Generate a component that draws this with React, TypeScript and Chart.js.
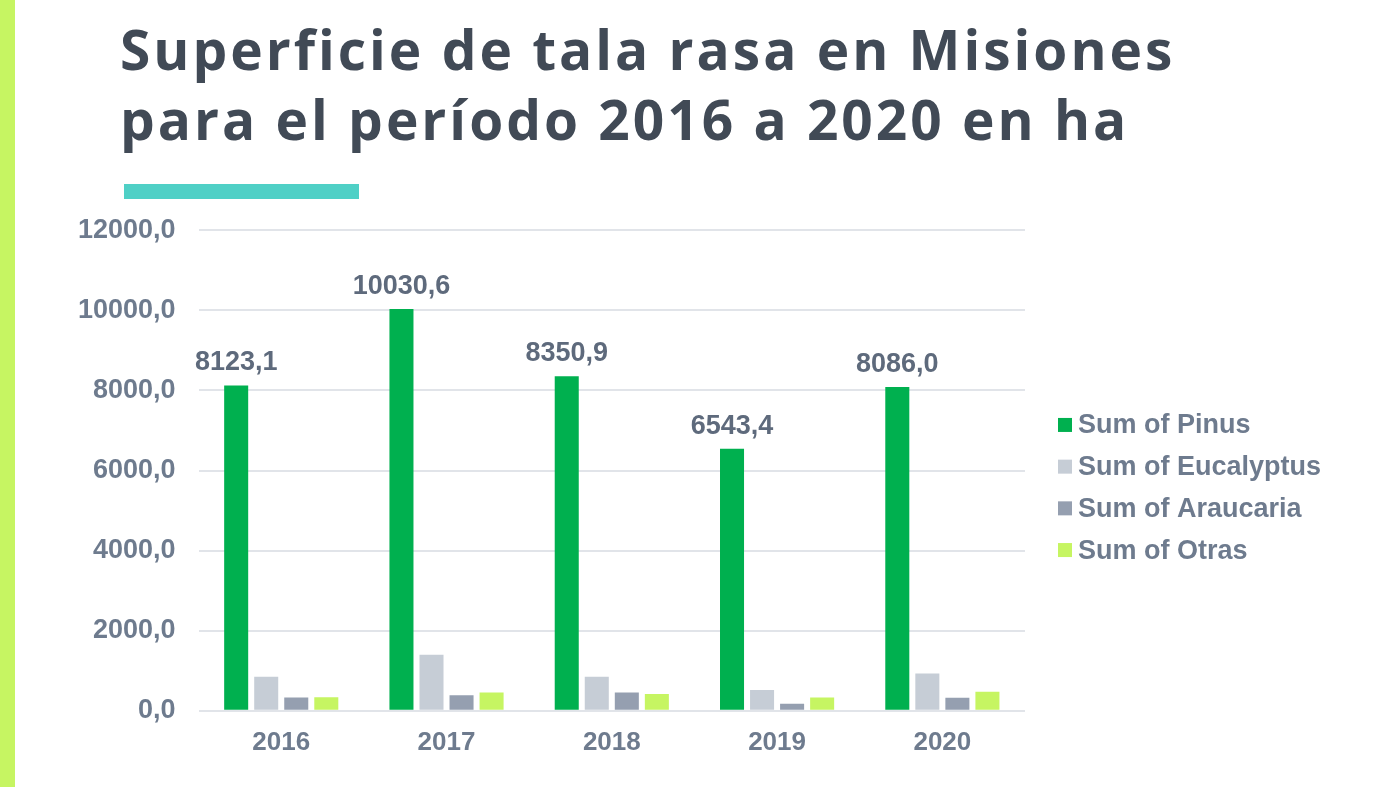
import React, { useEffect, useRef } from "react";
import { Chart, registerables } from "chart.js";

Chart.register(...registerables);

const years = ["2016", "2017", "2018", "2019", "2020"];
const seriesNames = ["Sum of Pinus", "Sum of Eucalyptus", "Sum of Araucaria", "Sum of Otras"];
const pinus = [8123.1, 10030.6, 8350.9, 6543.4, 8086.0];
const eucalyptus = [850, 1400, 850, 517, 933];
const araucaria = [330, 390, 458, 175, 325];
const otras = [340, 458, 417, 333, 475];
const yTicks = [0, 2000, 4000, 6000, 8000, 10000, 12000];
const colors = ["#00b04f", "#c6cdd6", "#959fb0", "#c6f562"];

const FONT = "'Liberation Sans', Arial, sans-serif";
const TEXT = "#6e7b8e";

const fmt = (v: number) => v.toFixed(1).replace(".", ",");

const labelPlugin = {
  id: "pinusLabels",
  afterDatasetsDraw(chart: any) {
    const ctx = chart.ctx;
    const meta = chart.getDatasetMeta(0);
    ctx.save();
    ctx.font = `bold 27px ${FONT}`;
    ctx.fillStyle = "#5e6a7c";
    ctx.textAlign = "center";
    ctx.textBaseline = "alphabetic";
    meta.data.forEach((bar: any, i: number) => {
      ctx.fillText(fmt(pinus[i]), bar.x, bar.y - 15);
    });
    ctx.restore();
  },
};

const legendPlugin = {
  id: "sideLegend",
  afterDraw(chart: any) {
    const ctx = chart.ctx;
    const ca = chart.chartArea;
    const x0 = ca.right + 33;
    const yMid = (ca.top + ca.bottom) / 2;
    const spacing = 41.7;
    const n = chart.data.datasets.length;
    ctx.save();
    ctx.font = `bold 27px ${FONT}`;
    ctx.textBaseline = "middle";
    ctx.textAlign = "left";
    chart.data.datasets.forEach((ds: any, i: number) => {
      const y = yMid - ((n - 1) / 2) * spacing + i * spacing + 17;
      ctx.fillStyle = ds.backgroundColor;
      ctx.fillRect(x0, y - 7, 14, 14);
      ctx.fillStyle = TEXT;
      ctx.fillText(ds.label, x0 + 20, y + 1);
    });
    ctx.restore();
  },
};

export default function App() {
  const ref = useRef<HTMLCanvasElement>(null);
  useEffect(() => {
    if (!ref.current) return;
    const chart = new Chart(ref.current, {
      type: "bar",
      data: {
        labels: years,
        datasets: [
          { label: seriesNames[0], data: pinus, backgroundColor: colors[0] },
          { label: seriesNames[1], data: eucalyptus, backgroundColor: colors[1] },
          { label: seriesNames[2], data: araucaria, backgroundColor: colors[2] },
          { label: seriesNames[3], data: otras, backgroundColor: colors[3] },
        ],
      },
      options: {
        animation: false,
        responsive: false,
        maintainAspectRatio: false,
        datasets: { bar: { categoryPercentage: 0.727, barPercentage: 0.8 } },
        layout: { padding: { top: 20, right: 375, left: 10, bottom: 0 } },
        scales: {
          x: {
            grid: { display: false },
            border: { display: false },
            ticks: {
              color: TEXT,
              font: { family: FONT, size: 26, weight: "bold" },
              padding: 8,
            },
          },
          y: {
            min: 0,
            max: 12000,
            afterBuildTicks: (axis: any) => {
              axis.ticks = yTicks.map((v) => ({ value: v }));
            },
            grid: { color: "#e1e4e9", lineWidth: 2, drawTicks: false },
            border: { display: false },
            ticks: {
              color: TEXT,
              font: { family: FONT, size: 27, weight: "bold" },
              padding: 23,
              callback: (v: any) => fmt(Number(v)),
            },
          },
        },
        plugins: {
          legend: { display: false },
          tooltip: { enabled: false },
        },
      },
      plugins: [labelPlugin, legendPlugin],
    });
    return () => chart.destroy();
  }, []);

  return (
    <div style={{ position: "fixed", left: 0, top: 0, width: 1400, height: 787, background: "#fff", overflow: "hidden" }}>
      <div style={{ position: "absolute", left: 0, top: 0, width: 15, height: 787, background: "#c6f562" }} />
      <div
        style={{
          position: "absolute",
          left: 120,
          top: 14,
          fontFamily: "'Open Sans', sans-serif",
          fontWeight: 700,
          fontSize: 55,
          letterSpacing: "3px",
          lineHeight: "70px",
          color: "#414a56",
          whiteSpace: "nowrap",
        }}
      >
        <div>Superficie de tala rasa en Misiones</div>
        <div>para el período 2016 a 2020 en ha</div>
      </div>
      <div style={{ position: "absolute", left: 124, top: 184, width: 235, height: 15, background: "#4fd0c6" }} />
      <canvas ref={ref} width={1355} height={575} style={{ position: "absolute", left: 45, top: 191 }} />
    </div>
  );
}
